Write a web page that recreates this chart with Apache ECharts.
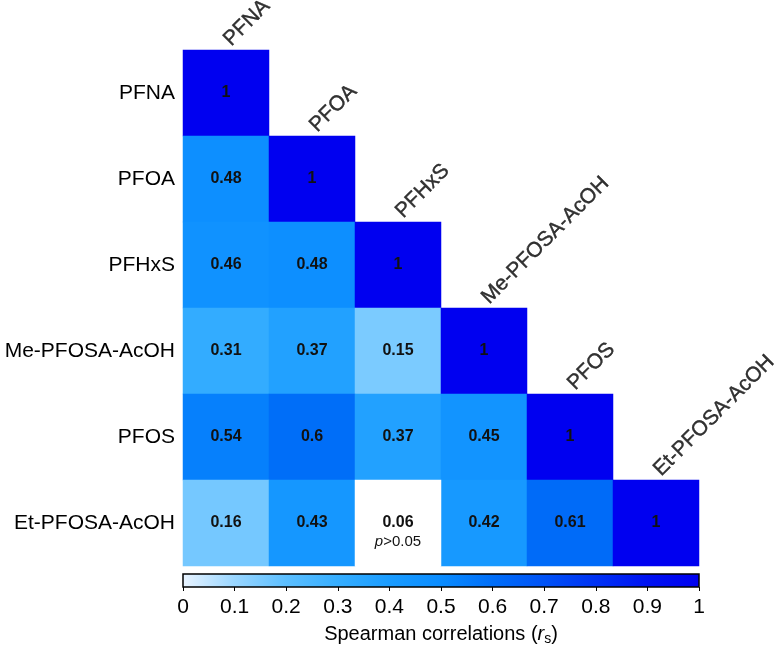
<!DOCTYPE html>
<html>
<head>
<meta charset="utf-8">
<script src="https://cdn.jsdelivr.net/npm/echarts@6/dist/echarts.min.js"></script>
<style>html,body{margin:0;padding:0;background:#fff}#c{width:780px;height:647px}</style>
</head>
<body>
<div id="c"></div>
<script>
var compounds = ['PFNA', 'PFOA', 'PFHxS', 'Me-PFOSA-AcOH', 'PFOS', 'Et-PFOSA-AcOH'];
// lower-triangle correlation rows (row i, columns 0..i)
var rowPFNA = [1];
var rowPFOA = [0.48, 1];
var rowPFHxS = [0.46, 0.48, 1];
var rowMe = [0.31, 0.37, 0.15, 1];
var rowPFOS = [0.54, 0.6, 0.37, 0.45, 1];
var rowEt = [0.16, 0.43, 0.06, 0.42, 0.61, 1];
var rows = [rowPFNA, rowPFOA, rowPFHxS, rowMe, rowPFOS, rowEt];
// non-significant cells [row, col]
var nonSignificant = [[5, 2]];
var colorbarTicks = [0, 0.1, 0.2, 0.3, 0.4, 0.5, 0.6, 0.7, 0.8, 0.9, 1];

var sigData = [], nsData = [];
rows.forEach(function (r, i) {
  r.forEach(function (v, j) {
    var ns = nonSignificant.some(function (p) { return p[0] === i && p[1] === j; });
    (ns ? nsData : sigData).push([j, i, v]);
  });
});
var diagData = compounds.map(function (c, i) { return [i, i]; });

var cmap = ['#eaf4ff', '#9ad6ff', '#5cbfff', '#36aeff', '#1a9cff', '#0a8cff', '#006ef8', '#0052f6', '#0032f4', '#0012f2', '#0000f0'];
var stops = cmap.map(function (c, i) { return { offset: i / (cmap.length - 1), color: c }; });

var font = 'Liberation Sans, Arial, sans-serif';
var chart = echarts.init(document.getElementById('c'));
chart.setOption({
  animation: false,
  grid: [
    { left: 183, top: 50, width: 516, height: 516 },
    { left: 183, top: 574, width: 516, height: 18, show: true, borderColor: '#000', borderWidth: 1.5,
      backgroundColor: { type: 'linear', x: 0, y: 0, x2: 1, y2: 0, colorStops: stops } }
  ],
  xAxis: [
    { type: 'category', data: compounds, gridIndex: 0, axisLine: { show: false }, axisTick: { show: false },
      axisLabel: { show: false }, splitLine: { show: false } },
    { type: 'value', gridIndex: 1, min: 0, max: 1, interval: 0.1, position: 'bottom',
      axisLine: { show: false }, axisTick: { show: true, length: 4, lineStyle: { color: '#000', width: 1 } },
      splitLine: { show: false },
      axisLabel: { fontSize: 21, color: '#000', fontFamily: font, margin: 10,
        formatter: function (v) { return colorbarTicks.indexOf(Math.round(v * 10) / 10) >= 0 ? String(Math.round(v * 10) / 10) : ''; } },
      name: '{a|Spearman correlations (}{r|r}{s|s}{a|)}', nameLocation: 'middle', nameGap: 35,
      nameTextStyle: { rich: {
        a: { fontSize: 20, color: '#000', fontFamily: font },
        r: { fontSize: 20, color: '#000', fontFamily: font, fontStyle: 'italic' },
        s: { fontSize: 14, color: '#000', fontFamily: font, verticalAlign: 'bottom', padding: [10, 0, 0, 0] }
      } } }
  ],
  yAxis: [
    { type: 'category', data: compounds, inverse: true, gridIndex: 0, axisLine: { show: false }, axisTick: { show: false },
      axisLabel: { fontSize: 21, color: '#000', fontFamily: font, margin: 8 }, splitLine: { show: false } },
    { type: 'value', gridIndex: 1, show: false, min: 0, max: 1 }
  ],
  visualMap: {
    show: false, type: 'continuous', min: 0, max: 1, seriesIndex: 0,
    inRange: { color: cmap }
  },
  series: [
    { type: 'heatmap', xAxisIndex: 0, yAxisIndex: 0, data: sigData,
      label: { show: true, color: '#111', fontWeight: 'bold', fontSize: 16, fontFamily: font,
        formatter: function (p) { return String(p.value[2]); } } },
    { type: 'heatmap', xAxisIndex: 0, yAxisIndex: 0, data: nsData, itemStyle: { color: '#ffffff' },
      label: { show: true, fontFamily: font,
        formatter: function (p) { return '{b|' + p.value[2] + '}\n{i|p}{n|>0.05}'; },
        rich: {
          b: { fontWeight: 'bold', fontSize: 16, color: '#111', fontFamily: font, lineHeight: 20 },
          i: { fontStyle: 'italic', fontSize: 15, color: '#111', fontFamily: font, lineHeight: 18 },
          n: { fontSize: 15, color: '#111', fontFamily: font, lineHeight: 18 }
        }, padding: [17, 0, 0, 0] } },
    { type: 'scatter', xAxisIndex: 0, yAxisIndex: 0, data: diagData, symbol: 'rect', symbolSize: [86, 86],
      itemStyle: { color: 'rgba(0,0,0,0)' }, silent: true, z: 5,
      label: { show: true, position: 'top', distance: 0, rotate: 45, align: 'left', verticalAlign: 'bottom',
        offset: [6, 6], fontSize: 21, color: '#000', fontFamily: font,
        textBorderColor: '#000', textBorderWidth: 0.4,
        formatter: function (p) { return compounds[p.value[0]]; } } }
  ]
});
</script>
</body>
</html>
